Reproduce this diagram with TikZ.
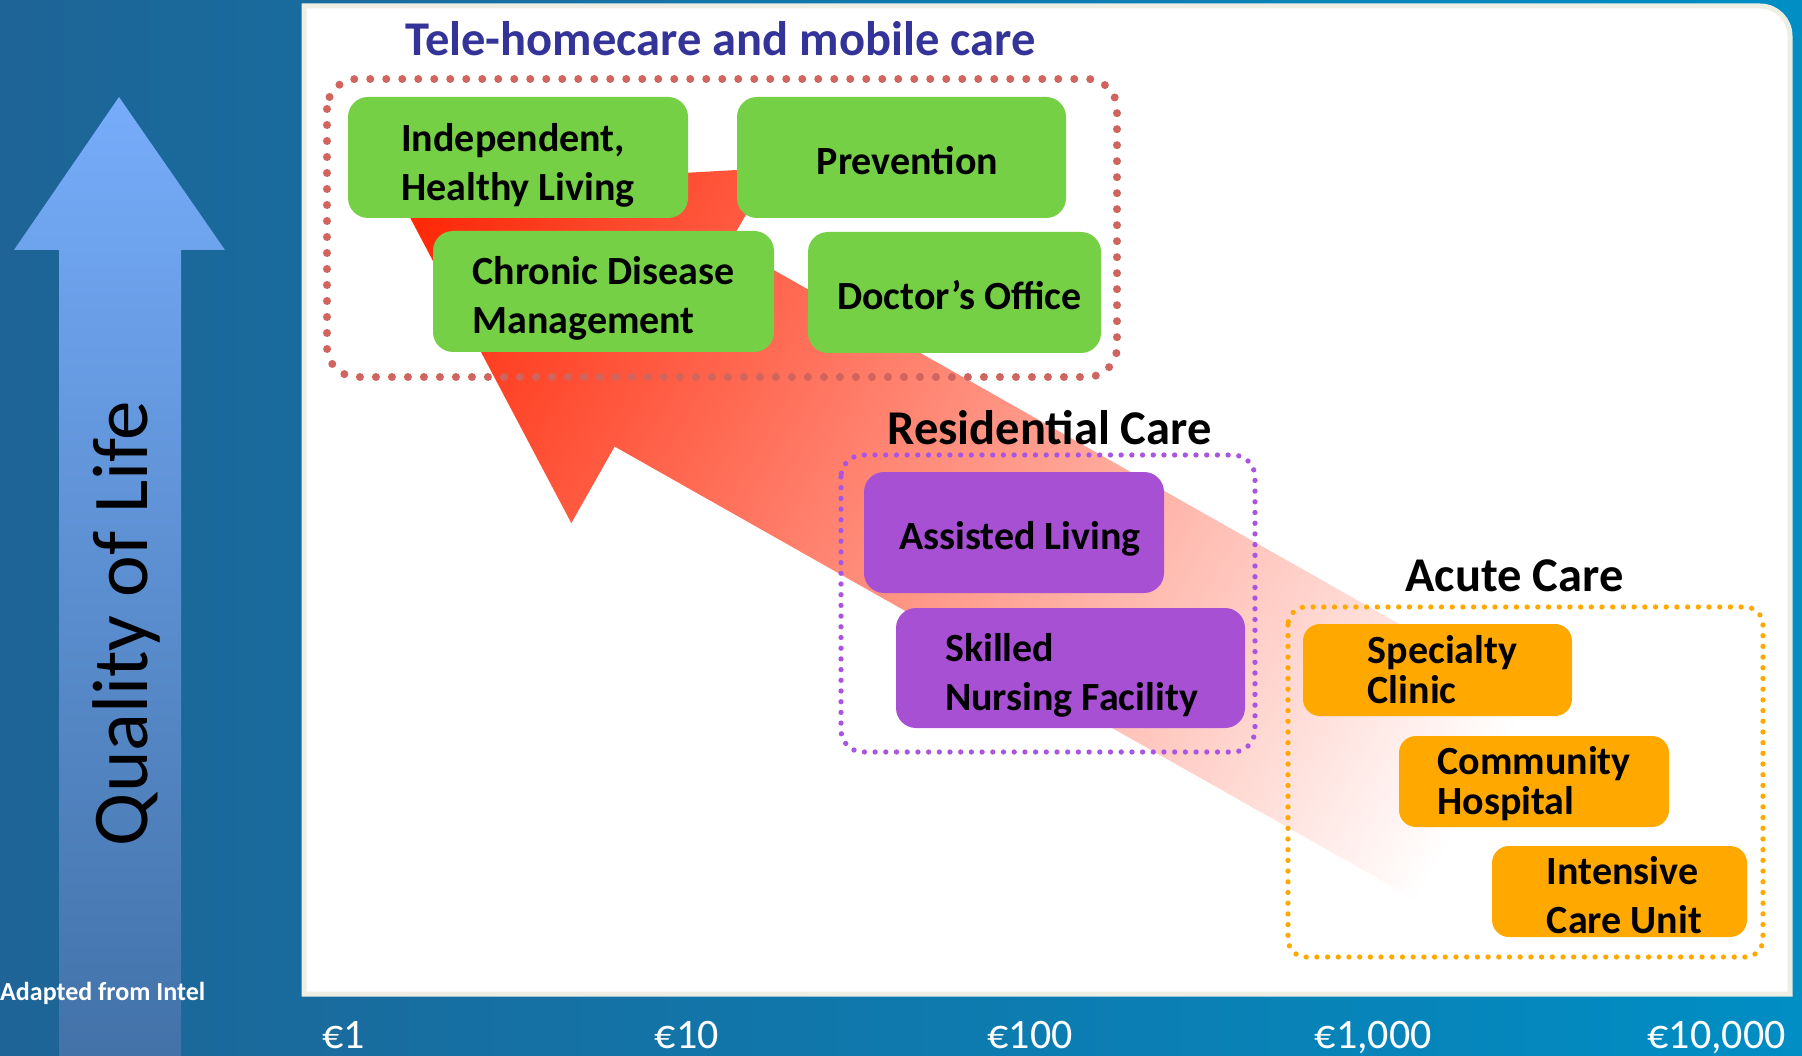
\documentclass[tikz,border=0pt]{standalone}
\usepackage{fontspec}
\setmainfont{Carlito}
\usepackage{tikz}

\definecolor{bgleft}{RGB}{30,100,150}
\definecolor{bgright}{RGB}{0,142,196}
\definecolor{panelrim}{RGB}{238,238,228}
\definecolor{qolblue}{RGB}{118,172,250}
\definecolor{qolbluedark}{RGB}{66,114,168}
\definecolor{arrowred}{RGB}{255,34,0}
\definecolor{teleblue}{RGB}{51,51,153}
\definecolor{teledots}{RGB}{208,100,95}
\definecolor{boxgreen}{RGB}{118,208,69}
\definecolor{resviolet}{RGB}{168,80,212}
\definecolor{resdots}{RGB}{170,85,225}
\definecolor{acuteorange}{RGB}{255,168,0}

\tikzset{
  carebox/.style={rounded corners=20pt, inner sep=0pt},
  boxtext/.style={inner sep=0pt, align=left, font=\fontsize{40}{49}\selectfont\bfseries},
  heading/.style={anchor=base, font=\fontsize{48.5}{58}\selectfont\bfseries},
  dotframe/.style={line cap=round, dash pattern=on 0pt off #1},
  dotframe/.default=12pt,
  costlabel/.style={anchor=base, text=white, font=\fontsize{42}{50}\selectfont}
}

\begin{document}
\begin{tikzpicture}[x=1pt, y=-1pt]
	% Canvas and background
	\useasboundingbox (0,0) rectangle (1802,1056);
	\shade[left color=bgleft, right color=bgright] (0,0) rectangle (1802,1056);
	
	% White panel
	\filldraw[fill=white, draw=panelrim, line width=5pt]
		(304,994) -- (304,6) -- (1760,6) .. controls (1776.6,6) and (1790,19.4) .. (1790,36) -- (1790,994) -- cycle;
	
	% Quality of life axis
	\shade[top color=qolblue, bottom color=qolbluedark]
		(119,97) -- (225,250) -- (181,250) -- (181,1056) -- (59,1056) -- (59,250) -- (14,250) -- cycle;
	\node[rotate=90, anchor=base, font=\fontsize{79}{90}\selectfont] (qol) at (147,623.5) {Quality of Life};
	
	% Big shift arrow, fading out towards high cost
	\begin{scope}[transform canvas={shift={(395,189)}, rotate=-29.5}]
		\shade[left color=arrowred, right color=white]
			(0,0) -- (318,-204) -- (318,-116) -- (1240,-116) -- (1240,116) -- (318,116) -- (318,204) -- cycle;
	\end{scope}
	
	% Tele-homecare group
	\draw[teledots, line width=8pt, dotframe=16pt, rounded corners=30pt] (327,79) rectangle (1117,377);
	\node[heading, text=teleblue] (telehead) at (720.5,56) {Tele-homecare and mobile care};
	\node[carebox, fill=boxgreen, minimum width=340pt, minimum height=121pt] (indep) at (518,157.5) {};
	\node[boxtext] (indeptext) at ([yshift=-8pt]indep.center) {Independent,\\Healthy Living};
	\node[carebox, fill=boxgreen, minimum width=329pt, minimum height=121pt] (prev) at (901.5,157.5) {};
	\node[boxtext] (prevtext) at ([xshift=6pt, yshift=-3.5pt]prev.center) {Prevention};
	\node[carebox, fill=boxgreen, minimum width=341pt, minimum height=121pt] (chronic) at (603.5,291.5) {};
	\node[boxtext] (chronictext) at ([yshift=-7pt]chronic.center) {Chronic Disease\\Management};
	\node[carebox, fill=boxgreen, minimum width=293pt, minimum height=121pt] (doctor) at (954.5,292.5) {};
	\node[boxtext] (doctortext) at ([xshift=5pt, yshift=-2.5pt]doctor.center) {Doctor’s Office};
	
	% Residential care group
	\draw[resdots, line width=5.3pt, dotframe=10.7pt, rounded corners=22pt] (841,455) rectangle (1255,752);
	\node[heading] (reshead) at (1049.5,445) {Residential Care};
	\node[carebox, fill=resviolet, minimum width=300pt, minimum height=121pt] (assisted) at (1014,532.5) {};
	\node[boxtext] (assistedtext) at ([xshift=6pt, yshift=-6pt]assisted.center) {Assisted Living};
	\node[carebox, fill=resviolet, minimum width=349pt, minimum height=120pt] (skilled) at (1070.5,668) {};
	\node[boxtext] (skilledtext) at ([xshift=1pt, yshift=-7pt]skilled.center) {Skilled\\Nursing Facility};
	
	% Acute care group
	\draw[acuteorange, line width=5.3pt, dotframe=10.7pt, rounded corners=18pt] (1288,607) rectangle (1763,957);
	\node[heading] (acutehead) at (1514.5,591) {Acute Care};
	\node[carebox, fill=acuteorange, rounded corners=17pt, minimum width=269pt, minimum height=92pt] (specialty) at (1437.5,670) {};
	\node[boxtext] (specialtytext) at ([xshift=5pt]specialty.center) {Specialty\\[-9pt]Clinic};
	\node[carebox, fill=acuteorange, rounded corners=17pt, minimum width=270pt, minimum height=91pt] (community) at (1534,781.5) {};
	\node[boxtext] (communitytext) at ([yshift=-2pt]community.center) {Community\\[-9pt]Hospital};
	\node[carebox, fill=acuteorange, rounded corners=17pt, minimum width=255pt, minimum height=91pt] (icu) at (1619.5,891.5) {};
	\node[boxtext] (icutext) at ([xshift=5pt, yshift=-3.5pt]icu.center) {Intensive\\Care Unit};
	
	% Cost axis
	\foreach \amount [count=\k] in {1,10,100,{1,000},{10,000}}
		\node[costlabel] (cost\k) at (\k*343.25+0.25,1048) {€\amount};
	\node[anchor=base west, inner sep=0pt, text=white, font=\fontsize{26}{30}\selectfont\bfseries] (source) at (0,1000) {Adapted from Intel};
	
\end{tikzpicture}
\end{document}
